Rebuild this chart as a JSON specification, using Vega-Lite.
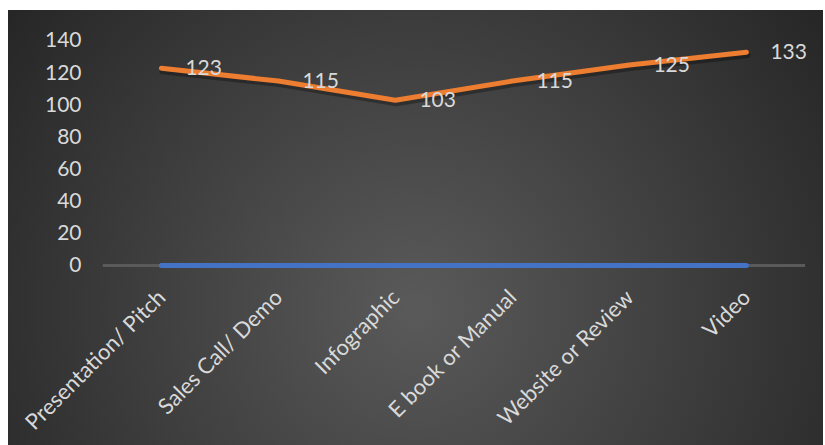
{
  "$schema": "https://vega.github.io/schema/vega-lite/v6.json",
  "width": 815,
  "height": 435,
  "padding": {"left": 8, "top": 10, "right": 2, "bottom": 0},
  "autosize": {"type": "none"},
  "background": "#ffffff",
  "view": {
    "stroke": null,
    "fill": {
      "gradient": "radial",
      "x1": 0.5, "y1": 0.6, "r1": 0,
      "x2": 0.5, "y2": 0.6, "r2": 0.62,
      "stops": [
        {"offset": 0, "color": "#5a5a5a"},
        {"offset": 1, "color": "#262626"}
      ]
    }
  },
  "config": {
    "font": "Lato",
    "axis": {"labelFont": "Lato", "labelFontSize": 21, "labelColor": "#d9d9d9", "titleColor": "#d9d9d9"}
  },
  "data": {
    "values": [
      {"category": "Presentation/ Pitch", "series": "Series1", "value": 0},
      {"category": "Sales Call/ Demo", "series": "Series1", "value": 0},
      {"category": "Infographic", "series": "Series1", "value": 0},
      {"category": "E book or Manual", "series": "Series1", "value": 0},
      {"category": "Website or Review", "series": "Series1", "value": 0},
      {"category": "Video", "series": "Series1", "value": 0},
      {"category": "Presentation/ Pitch", "series": "Series2", "value": 123},
      {"category": "Sales Call/ Demo", "series": "Series2", "value": 115},
      {"category": "Infographic", "series": "Series2", "value": 103},
      {"category": "E book or Manual", "series": "Series2", "value": 115},
      {"category": "Website or Review", "series": "Series2", "value": 125},
      {"category": "Video", "series": "Series2", "value": 133}
    ]
  },
  "encoding": {
    "x": {
      "field": "category", "type": "nominal", "sort": null,
      "scale": {
        "type": "point", "padding": 0.983, "align": 0.667,
        "domain": ["Presentation/ Pitch", "Sales Call/ Demo", "Infographic", "E book or Manual", "Website or Review", "Video"]
      },
      "axis": {
        "title": null, "domain": false, "ticks": false, "tickSize": 0, "grid": false,
        "offset": -179.5, "labelAngle": -45, "labelAlign": "right", "labelBaseline": "middle",
        "labelPadding": 28, "labelOverlap": false, "labelLimit": 400, "labelFontSize": 22
      }
    },
    "y": {
      "field": "value", "type": "quantitative",
      "scale": {"domain": [-111.93, 159.33], "nice": false, "zero": false},
      "axis": {
        "title": null, "domain": false, "ticks": false, "tickSize": 0, "grid": false,
        "values": [0, 20, 40, 60, 80, 100, 120, 140],
        "offset": -73, "labelPadding": 0, "labelAlign": "right", "labelBaseline": "middle"
      }
    }
  },
  "layer": [
    {
      "mark": {"type": "rule", "color": "#5c5c5c", "strokeWidth": 1.5, "xOffset": -58.5, "x2Offset": 58.5},
      "encoding": {
        "x": {"datum": "Presentation/ Pitch", "type": "nominal"},
        "x2": {"datum": "Video"},
        "y": {"datum": 0, "type": "quantitative"}
      }
    },
    {
      "transform": [{"filter": "datum.series === 'Series2'"}],
      "mark": {"type": "line", "color": "#000000", "opacity": 0.3, "strokeWidth": 6, "strokeCap": "round", "strokeJoin": "round", "xOffset": 1, "yOffset": 3},
      "encoding": {}
    },
    {
      "mark": {"type": "line", "strokeWidth": 5, "strokeCap": "round", "strokeJoin": "round"},
      "encoding": {
        "color": {
          "field": "series", "type": "nominal",
          "scale": {"domain": ["Series1", "Series2"], "range": ["#4472c4", "#ed7d31"]},
          "legend": null
        }
      }
    },
    {
      "transform": [{"filter": "datum.series === 'Series2'"}],
      "mark": {"type": "text", "align": "left", "baseline": "middle", "dx": 24, "dy": 1, "fontSize": 21, "font": "Lato", "color": "#d9d9d9"},
      "encoding": {"text": {"field": "value", "type": "quantitative"}}
    }
  ]
}
